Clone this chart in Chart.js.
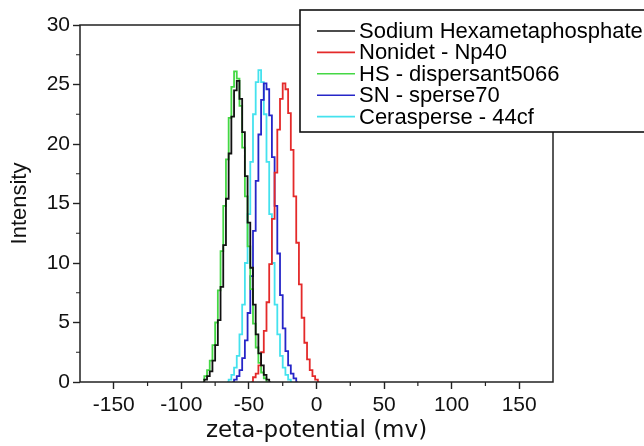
<!DOCTYPE html>
<html>
<head>
<meta charset="utf-8">
<script src="https://cdn.jsdelivr.net/npm/chart.js@4/dist/chart.umd.min.js"></script>
<style>
  html, body { margin: 0; padding: 0; background: #fff; }
  #wrap { width: 644px; height: 446px; position: relative; }
</style>
</head>
<body>
<div id="wrap"><canvas id="c" width="644" height="446"></canvas></div>
<script>
// zeta-potential bins (mV)
const zeta = [-84,-82,-80,-78,-76,-74,-72,-70,-68,-66,-64,-62,-60,-58,-56,-54,-52,-50,-48,-46,-44,-42,-40,-38,-36,-34,-32,-30,-28,-26,-24,-22,-20,-18,-16,-14,-12,-10,-8,-6,-4,-2,0,2];

const seriesNames = ["Sodium Hexametaphosphate", "Nonidet - Np40", "HS - dispersant5066", "SN - sperse70", "Cerasperse - 44cf"];
const seriesColors = ["#111111", "#e42a2a", "#44d844", "#2626c8", "#44e2ee"];

const sodium = [0,0.2,0.5,0.9,1.8,3.1,5.2,8.0,11.5,15.4,19.2,22.3,24.5,25.3,23.8,21.0,17.3,13.4,9.6,6.5,4.0,2.4,1.4,0.6,0.2,0,null,null,null,null,null,null,null,null,null,null,null,null,null,null,null,null,null,null];
const nonidet = [null,null,null,null,null,null,null,null,null,null,null,null,null,null,null,null,null,null,0,0.4,0.7,1.4,2.5,4.3,6.7,9.9,13.7,17.6,21.2,23.8,25.1,24.6,22.6,19.5,15.6,11.7,8.2,5.4,3.3,1.9,1.0,0.5,0.2,0];
const hsDisp = [0.2,0.5,1.0,1.8,3.1,5.0,7.7,11.0,14.8,18.7,22.2,24.8,26.1,25.5,23.2,19.7,15.6,11.4,7.8,4.9,2.9,1.6,0.8,0.3,0,null,null,null,null,null,null,null,null,null,null,null,null,null,null,null,null,null,null,null];
const snSperse = [null,null,null,null,null,null,null,null,null,null,null,0,0.2,0.5,1.0,2.0,3.5,5.8,8.9,12.7,16.9,20.8,23.7,25.1,24.6,22.4,18.9,14.8,10.8,7.3,4.5,2.6,1.4,0.7,0.3,0,null,null,null,null,null,null,null,null];
const cerasperse = [null,null,null,null,null,null,null,null,null,0,0.2,0.6,1.2,2.2,4.0,6.5,10.0,14.1,18.5,22.5,25.2,26.2,25.2,22.5,18.5,14.1,10.0,6.5,4.0,2.2,1.2,0.6,0.2,0,null,null,null,null,null,null,null,null,null,null];

const xTickLabels = [-150,-100,-50,0,50,100,150];
const yTickLabels = [0,5,10,15,20,25,30];

const seriesData = [sodium, nonidet, hsDisp, snSperse, cerasperse];

const AREA = { left: 80, top: 25, right: 553, bottom: 382 };
const W = 644, H = 446;

const framePlugin = {
  id: 'frame',
  afterDatasetsDraw(chart) {
    const ctx = chart.ctx, a = chart.chartArea;
    ctx.save();
    ctx.strokeStyle = '#222';
    ctx.lineWidth = 1.5;
    ctx.strokeRect(a.left, a.top, a.right - a.left, a.bottom - a.top);
    // minor ticks
    const xs = chart.scales.x, ys = chart.scales.y;
    ctx.lineWidth = 1.2;
    ctx.beginPath();
    for (const t of xs.ticks) {
      if (t.value % 50 !== 0 && t.value > xs.min && t.value < xs.max) {
        const px = xs.getPixelForValue(t.value);
        ctx.moveTo(px, a.bottom); ctx.lineTo(px, a.bottom + 4);
      }
    }
    for (const t of ys.ticks) {
      if (t.value % 5 !== 0) {
        const py = ys.getPixelForValue(t.value);
        ctx.moveTo(a.left, py); ctx.lineTo(a.left - 4, py);
      }
    }
    ctx.stroke();
    ctx.restore();
  }
};

const legendPlugin = {
  id: 'boxLegend',
  afterDraw(chart) {
    const ctx = chart.ctx;
    ctx.save();
    ctx.fillStyle = '#fff';
    ctx.fillRect(300, 10, 360, 122);
    ctx.strokeStyle = '#111';
    ctx.lineWidth = 1.6;
    ctx.strokeRect(300, 10, 360, 122);
    ctx.font = '22px "Liberation Sans", Arial, sans-serif';
    ctx.textBaseline = 'middle';
    ctx.textAlign = 'left';
    chart.data.datasets.forEach((ds, i) => {
      const y = 31 + i * 21.4;
      ctx.strokeStyle = ds.borderColor;
      ctx.lineWidth = 1.6;
      ctx.beginPath();
      ctx.moveTo(317, y); ctx.lineTo(355, y);
      ctx.stroke();
      ctx.fillStyle = '#000';
      ctx.fillText(ds.label, 359, y + 1);
    });
    ctx.restore();
  }
};

new Chart(document.getElementById('c'), {
  type: 'line',
  data: {
    datasets: seriesNames.map((name, i) => ({
      label: name,
      data: zeta.map((x, j) => ({ x: x, y: seriesData[i][j] })),
      borderColor: seriesColors[i],
      backgroundColor: seriesColors[i],
      borderWidth: 1.8,
      pointRadius: 0,
      stepped: 'middle',
      fill: false,
      spanGaps: false
    }))
  },
  options: {
    responsive: false,
    animation: false,
    layout: { padding: { left: 0, top: AREA.top, right: W - AREA.right, bottom: 0 } },
    plugins: { legend: { display: false }, tooltip: { enabled: false } },
    scales: {
      x: {
        type: 'linear',
        min: -175, max: 175,
        afterFit(s) { s.height = H - AREA.bottom; },
        border: { display: false },
        grid: {
          drawOnChartArea: false, drawTicks: true, tickLength: 7, tickWidth: 1.4,
          tickColor: (c) => (c.tick && xTickLabels.includes(c.tick.value)) ? '#222' : 'rgba(0,0,0,0)'
        },
        ticks: {
          stepSize: 25, autoSkip: false, maxRotation: 0, padding: 4,
          color: '#111',
          font: { family: '"Liberation Sans", Arial, sans-serif', size: 21 },
          callback: (v) => xTickLabels.includes(v) ? String(v) : ''
        },
        title: {
          display: true, text: 'zeta-potential (mv)', color: '#111',
          font: { family: '"DejaVu Sans", sans-serif', size: 23 },
          padding: { top: 0, bottom: 1 }
        }
      },
      y: {
        min: 0, max: 30,
        afterFit(s) { s.width = AREA.left; },
        border: { display: false },
        grid: {
          drawOnChartArea: false, drawTicks: true, tickLength: 7, tickWidth: 1.4,
          tickColor: (c) => (c.tick && yTickLabels.includes(c.tick.value)) ? '#222' : 'rgba(0,0,0,0)'
        },
        ticks: {
          stepSize: 2.5, autoSkip: false, padding: 3,
          color: '#111',
          font: { family: '"Liberation Sans", Arial, sans-serif', size: 21 },
          callback: (v) => yTickLabels.includes(v) ? String(v) : ''
        },
        title: {
          display: true, text: 'Intensity', color: '#111',
          font: { family: '"Liberation Sans", Arial, sans-serif', size: 22 },
          padding: { top: 7, bottom: 0 }
        }
      }
    }
  },
  plugins: [framePlugin, legendPlugin]
});
</script>
</body>
</html>
